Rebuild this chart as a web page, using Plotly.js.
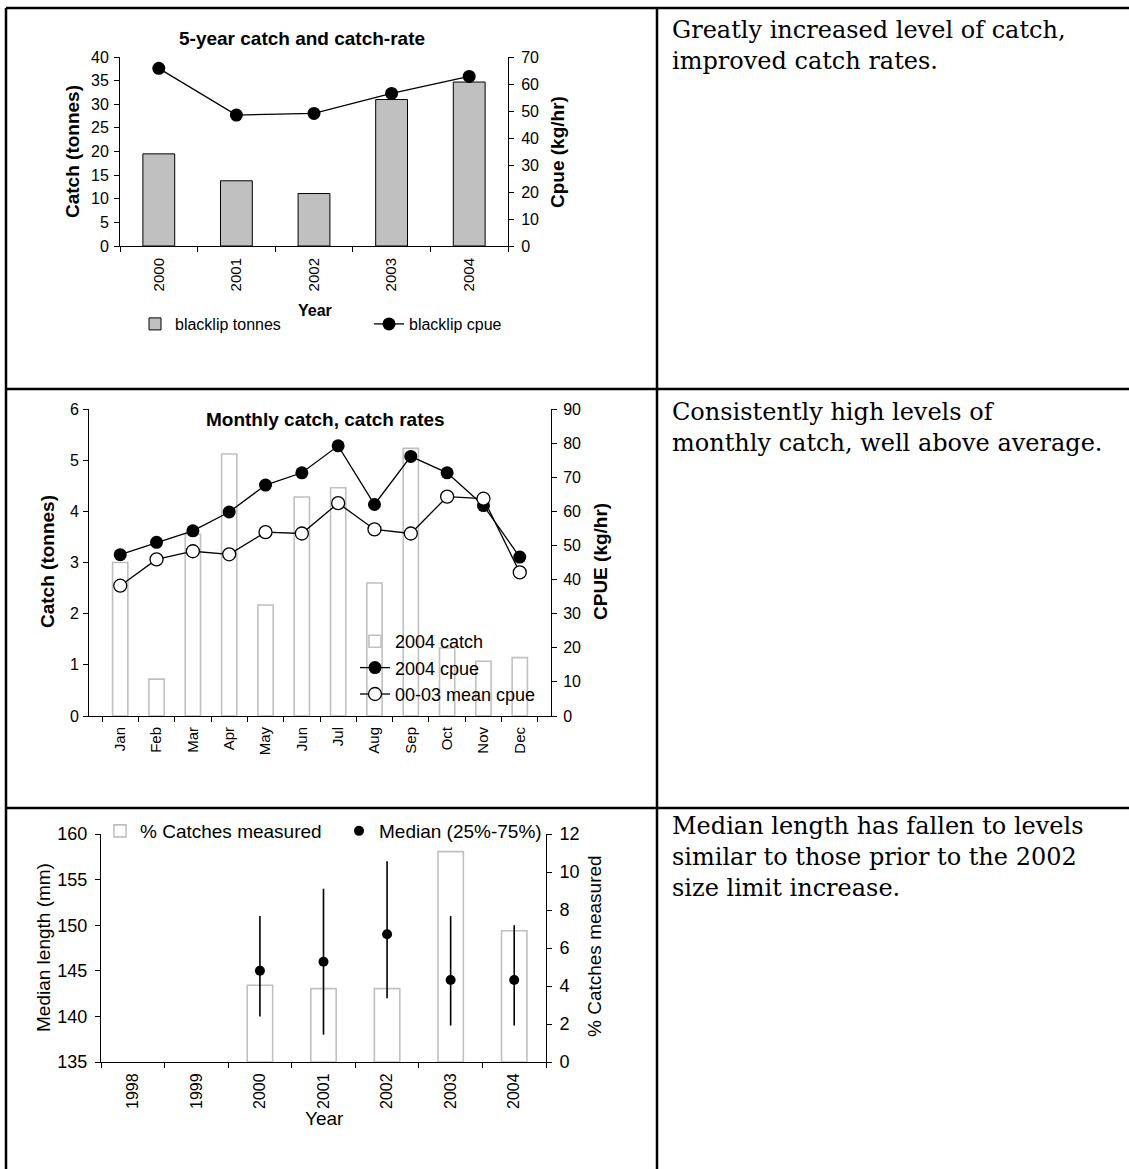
<!DOCTYPE html>
<html>
<head>
<meta charset="utf-8">
<script src="https://cdn.plot.ly/plotly-3.0.1.min.js"></script>
<style>
html,body{margin:0;padding:0;background:#fff;}
#chart{width:1129px;height:1169px;}
</style>
</head>
<body>
<div id="chart"></div>
<script>
// ---------- DATA ----------
const years5 = ['2000','2001','2002','2003','2004'];
const blacklipTonnes = [19.5, 13.8, 11.1, 31.0, 34.7];
const blacklipCpue = [65.8, 48.5, 49.1, 56.5, 62.8];

const months = ['Jan','Feb','Mar','Apr','May','Jun','Jul','Aug','Sep','Oct','Nov','Dec'];
const catch2004 = [3.0, 0.72, 3.55, 5.12, 2.17, 4.28, 4.46, 2.6, 5.23, 1.33, 1.07, 1.14];
const cpue2004 = [47.3, 50.9, 54.3, 59.8, 67.7, 71.3, 79.2, 62.0, 76.1, 71.3, 61.7, 46.6];
const meanCpue0003 = [38.2, 45.9, 48.3, 47.4, 53.9, 53.5, 62.4, 54.7, 53.5, 64.3, 63.7, 42.1];

const years7 = ['1998','1999','2000','2001','2002','2003','2004'];
const pctMeasured = [null, null, 4.04, 3.86, 3.86, 11.07, 6.91];
const medianLength = [null, null, 145, 146, 149, 144, 144];
const q25Length = [null, null, 140, 138, 142, 139, 139];
const q75Length = [null, null, 151, 154, 157, 151, 150];

const rowTexts = [
  ['Greatly increased level of catch,', 'improved catch rates.'],
  ['Consistently high levels of', 'monthly catch, well above average.'],
  ['Median length has fallen to levels', 'similar to those prior to the 2002', 'size limit increase.']
];

// ---------- LAYOUT HELPERS ----------
const W = 1129, H = 1169;
const px = v => v / W;
const py = v => 1 - v / H;
const SANS = 'Liberation Sans, Arial, sans-serif';
const SERIF = 'DejaVu Serif, Liberation Serif, serif';

const errPlus = q75Length.map((v, i) => v == null ? null : v - medianLength[i]);
const errMinus = q25Length.map((v, i) => v == null ? null : medianLength[i] - v);

const traces = [
  // chart 1
  {type:'bar', x: years5, y: blacklipTonnes, name:'blacklip tonnes', xaxis:'x', yaxis:'y',
   marker:{color:'#c0c0c0', line:{color:'#000', width:1}}, width:0.41, legend:'legend'},
  {type:'scatter', mode:'lines+markers', x: years5, y: blacklipCpue, name:'blacklip cpue', xaxis:'x', yaxis:'y2',
   line:{color:'#000', width:1.3}, marker:{color:'#000', size:13}, legend:'legend'},
  // chart 2
  {type:'bar', x: months, y: catch2004, name:'2004 catch', xaxis:'x2', yaxis:'y3',
   marker:{color:'rgba(255,255,255,0)', line:{color:'#c0c0c0', width:1.6}}, width:0.42, legend:'legend2'},
  {type:'scatter', mode:'lines+markers', x: months, y: cpue2004, name:'2004 cpue', xaxis:'x2', yaxis:'y4',
   line:{color:'#000', width:1.3}, marker:{color:'#000', size:13}, legend:'legend2'},
  {type:'scatter', mode:'lines+markers', x: months, y: meanCpue0003, name:'00-03 mean cpue', xaxis:'x2', yaxis:'y4',
   line:{color:'#000', width:1.3}, marker:{color:'#fff', size:13, line:{color:'#000', width:1.3}}, legend:'legend2'},
  // chart 3
  {type:'bar', x: years7, y: pctMeasured, name:'% Catches measured', xaxis:'x3', yaxis:'y5',
   marker:{color:'rgba(255,255,255,0)', line:{color:'#c0c0c0', width:1.6}}, width:0.4, legend:'legend3'},
  {type:'scatter', mode:'markers', x: years7, y: medianLength, name:'Median (25%-75%)', xaxis:'x3', yaxis:'y6',
   marker:{color:'#000', size:10},
   error_y:{type:'data', symmetric:false, array: errPlus, arrayminus: errMinus, width:0, thickness:1.6, color:'#000'},
   legend:'legend3'}
];

const axisBase = {showline:true, linecolor:'#000', linewidth:1, ticks:'outside', tickcolor:'#000',
  ticklen:5, showgrid:false, zeroline:false, fixedrange:true, automargin:false,
  tickfont:{family:SANS, color:'#000', size:16}};
const tf = s => ({family:SANS, color:'#000', size:s});

const layout = {
  width: W, height: H,
  margin:{l:0, r:0, t:0, b:0},
  paper_bgcolor:'#fff', plot_bgcolor:'rgba(0,0,0,0)',
  font:{family:SANS, color:'#000'},
  // chart 1
  xaxis: Object.assign({}, axisBase, {domain:[px(120), px(508)], anchor:'y', type:'category',
    tickson:'boundaries', tickangle:-90, ticklabelstandoff:5, tickfont:tf(15)}),
  yaxis: Object.assign({}, axisBase, {domain:[py(246), py(57)], anchor:'x', range:[0,40], dtick:5,
    ticklabelstandoff:2, tickfont:tf(16)}),
  yaxis2: Object.assign({}, axisBase, {overlaying:'y', side:'right', anchor:'x', range:[0,70], dtick:10,
    ticklabelstandoff:4, tickfont:tf(16)}),
  // chart 2
  xaxis2: Object.assign({}, axisBase, {domain:[px(89), px(551)], anchor:'y3', type:'category',
    tickson:'boundaries', tickangle:-90, ticklabelstandoff:4, tickfont:tf(15)}),
  yaxis3: Object.assign({}, axisBase, {domain:[py(716), py(409)], anchor:'x2', range:[0,6], dtick:1,
    ticklabelstandoff:1, tickfont:tf(16)}),
  yaxis4: Object.assign({}, axisBase, {overlaying:'y3', side:'right', anchor:'x2', range:[0,90], dtick:10,
    ticklabelstandoff:3, tickfont:tf(16)}),
  // chart 3 (y5 = % measured on right, y6 = median on left)
  xaxis3: Object.assign({}, axisBase, {domain:[px(101), px(546)], anchor:'y5', type:'category',
    tickson:'boundaries', tickangle:-90, ticklabelstandoff:4, tickfont:tf(16)}),
  yaxis5: Object.assign({}, axisBase, {domain:[py(1062), py(834)], anchor:'x3', side:'right', range:[0,12], dtick:2,
    ticklabelstandoff:4, tickfont:tf(18)}),
  yaxis6: Object.assign({}, axisBase, {overlaying:'y5', side:'left', anchor:'x3', range:[135,160], dtick:5,
    ticklabelstandoff:4, tickfont:tf(18)}),
  legend:{orientation:'h', x:px(135), y:py(307), xanchor:'left', yanchor:'top', bgcolor:'rgba(0,0,0,0)',
    font:tf(16), entrywidth:189, itemclick:false},
  legend2:{orientation:'v', x:px(355), y:py(623), xanchor:'left', yanchor:'top', bgcolor:'rgba(0,0,0,0)',
    font:tf(18), itemclick:false},
  legend3:{orientation:'h', x:px(100), y:py(812), xanchor:'left', yanchor:'top', bgcolor:'rgba(0,0,0,0)',
    font:tf(19), entrywidth:194, itemclick:false},
  showlegend:true,
  shapes:[],
  annotations:[]
};

// table borders
const lineStyle = {color:'#000', width:2.5};
[[6,8,1129,8],[6,389,1129,389],[6,808,1129,808],[6,8,6,1169],[657,8,657,1169]].forEach(s=>{
  layout.shapes.push({type:'line', xref:'paper', yref:'paper', x0:px(s[0]), y0:py(s[1]), x1:px(s[2]), y1:py(s[3]), line:lineStyle});
});

function ann(text, x, y, size, opts){
  layout.annotations.push(Object.assign({text:text, xref:'paper', yref:'paper', x:px(x), y:py(y),
    showarrow:false, xanchor:'center', yanchor:'middle', font:{family:SANS, size:size, color:'#000'}}, opts||{}));
}
// chart titles and axis titles
ann('<b>5-year catch and catch-rate</b>', 302, 38, 19);
ann('<b>Catch (tonnes)</b>', 73, 152, 19, {textangle:-90});
ann('<b>Cpue (kg/hr)</b>', 558, 152, 19, {textangle:-90});
ann('<b>Year</b>', 315, 310, 16);

ann('<b>Monthly catch, catch rates</b>', 325, 420, 19);
ann('<b>Catch (tonnes)</b>', 47, 562, 19, {textangle:-90});
ann('<b>CPUE (kg/hr)</b>', 600, 562, 19, {textangle:-90});

ann('Median length (mm)', 43, 948, 19, {textangle:-90});
ann('% Catches measured', 594, 946, 19, {textangle:-90});
ann('Year', 324, 1118, 19);

// right column texts (one block per table row)
const rowCenters = [45.5, 427, 857];
rowTexts.forEach((lines, r)=>{
  ann(lines.join('<br>'), 670, rowCenters[r], 24,
      {xanchor:'left', align:'left', font:{family:SERIF, size:24, color:'#000'}});
});

Plotly.newPlot('chart', traces, layout, {staticPlot:true, displayModeBar:false});
</script>
</body>
</html>
